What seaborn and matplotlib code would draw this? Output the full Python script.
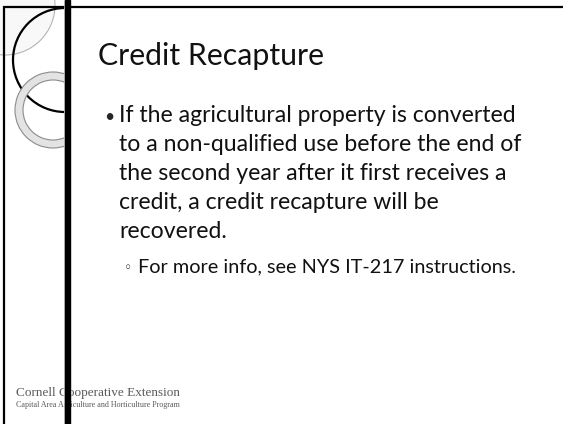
import matplotlib
matplotlib.use("Agg")
import matplotlib.pyplot as plt
from matplotlib.patches import Circle, Wedge, Rectangle
import seaborn as sns

# Texte de la diapositive
title = "Credit Recapture"
bullet_lines = [
    "If the agricultural property is converted",
    "to a non-qualified use before the end of",
    "the second year after it first receives a",
    "credit, a credit recapture will be",
    "recovered.",
]
sub_bullet = "For more info, see NYS IT-217 instructions."
footer_main = "Cornell Cooperative Extension"
footer_sub = "Capital Area Agriculture and Horticulture Program"

sns.set_style("white")
plt.rcParams['font.family'] = ['Lato', 'DejaVu Sans']

fig = plt.figure(figsize=(5.63, 4.24), dpi=100)
ax = fig.add_axes([0, 0, 1, 1])
ax.set_xlim(0, 563)
ax.set_ylim(424, 0)
ax.axis("off")

# Décor de gauche : cercles coupés par la barre
clip = Rectangle((0, 0), 64, 424, transform=ax.transData)
deco = [
    Circle((5, 5), 50, facecolor="#f8f8f8", edgecolor="#b5b5b5", lw=0.8, zorder=1),
    Circle((65, 60), 52, facecolor="none", edgecolor="black", lw=1.6, zorder=2),
    Wedge((53, 110), 38, 0, 360, width=8, facecolor="#e3e3e3",
          edgecolor="#8c8c8c", lw=0.8, zorder=3),
]
for p in deco:
    ax.add_patch(p)
    p.set_clip_path(clip)

# Cadre
ax.plot([3, 563], [7, 7], color="black", lw=1.6, zorder=5, solid_capstyle="butt")
ax.plot([4, 4], [6, 424], color="black", lw=1.6, zorder=5, solid_capstyle="butt")
ax.plot([64, 64], [0, 424], color="#c8c8c8", lw=0.6, zorder=5)
ax.add_patch(Rectangle((65, 0), 5, 424, color="black", zorder=6))

# Titre
ax.text(98, 65, title, fontsize=21.8, va="baseline", ha="left", color="#111111")

# Puces
y = 122
ax.text(104, y, "•", fontsize=12.5, va="baseline", ha="left")
for line in bullet_lines:
    ax.text(119, y, line, fontsize=16.6, va="baseline", ha="left", color="#111111")
    y += 29
ax.text(124, 272, "◦", fontsize=10, va="baseline", ha="left",
        family=["DejaVu Sans"], color="#222222")
ax.text(138, 272, sub_bullet, fontsize=14.3, va="baseline", ha="left", color="#111111")

# Pied de page
ax.text(16, 396, footer_main, fontsize=9.5, family=["Liberation Serif"],
        color="#5a5a5a", va="baseline", ha="left", zorder=4)
ax.text(16, 407, footer_sub, fontsize=5.75, family=["Liberation Serif"],
        color="#5a5a5a", va="baseline", ha="left", zorder=4)

plt.savefig("out.png", dpi=100)
